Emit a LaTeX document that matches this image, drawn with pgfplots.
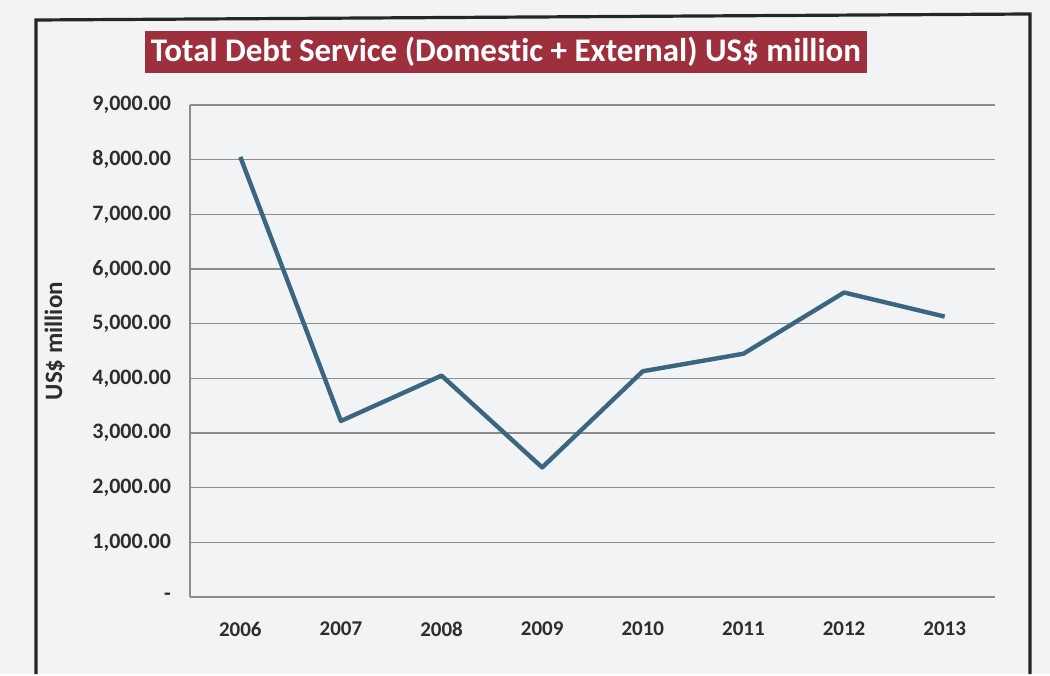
\documentclass[border=0pt]{standalone}
\usepackage{pgfplots}
\pgfplotsset{compat=1.18}
\usepackage{fontspec}
\setmainfont{Carlito}[Ligatures=NoCommon]
\definecolor{linec}{RGB}{58,102,128}
\definecolor{titlebg}{RGB}{158,48,62}
\definecolor{gridc}{RGB}{140,140,140}
\definecolor{txtc}{RGB}{45,45,45}
\definecolor{bgc}{RGB}{242,243,245}
\begin{document}
\begin{tikzpicture}[x=1pt,y=1pt]
\fill[bgc] (0,0) rectangle (525,337);
\draw[line width=1.6pt, black!85] (18,0) -- (18,327) -- (515,330) -- (515,0);
\begin{axis}[
  at={(95pt,38.5pt)}, anchor=south west,
  scale only axis, width=402.5pt, height=246pt,
  xmin=-0.5, xmax=7.5, ymin=0, ymax=9000,
  xtick={0,...,7},
  xticklabels={2006,2007,2008,2009,2010,2011,2012,2013},
  ytick={0,1000,...,9000},
  yticklabels={{-},{1,000.00},{2,000.00},{3,000.00},{4,000.00},{5,000.00},{6,000.00},{7,000.00},{8,000.00},{9,000.00}},
  major tick length=0pt,
  axis x line*=bottom, axis y line*=left,
  axis line style={gridc, line width=0.7pt, -},
  ymajorgrids, grid style={gridc, line width=0.7pt},
  xticklabel style={font=\fontsize{10.5}{12}\selectfont\bfseries, text=txtc, yshift=-9pt},
  yticklabel style={font=\fontsize{11}{13}\selectfont\bfseries, text=txtc, xshift=-6pt},
  ylabel={US\$ million},
  ylabel style={font=\fontsize{12.5}{14}\selectfont\bfseries, text=txtc, at={(axis description cs:-0.168,0.52)}, anchor=center},
  clip=false,
]
\addplot[linec, line width=2.2pt, line join=round] coordinates {
(0,8050) (1,3220) (2,4050) (3,2370) (4,4130) (5,4450) (6,5570) (7,5130)
};
\end{axis}
\node[fill=titlebg, text=white, font=\fontsize{16.5}{19}\selectfont\bfseries, inner xsep=3pt, inner ysep=3pt] at (253,311) {Total Debt Service (Domestic + External) US\$ million};
\end{tikzpicture}
\end{document}
